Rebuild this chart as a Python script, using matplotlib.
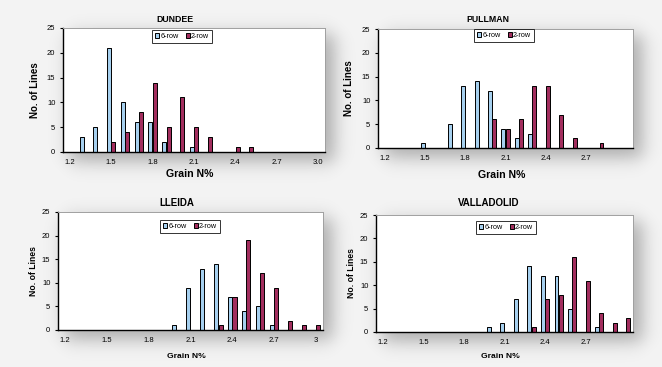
import numpy as np
import matplotlib
import matplotlib.pyplot as plt

matplotlib.use("Agg")
plt.rcParams["font.family"] = ["Liberation Sans", "DejaVu Sans"]

# Grain N% classes (category axis)
categories = ["1.2", "1.3", "1.4", "1.5", "1.6", "1.7", "1.8", "1.9", "2.0", "2.1",
              "2.2", "2.3", "2.4", "2.5", "2.6", "2.7", "2.8", "2.9", "3.0"]

dundee_6row = [0, 3, 5, 21, 10, 6, 6, 2, 0, 1, 0, 0, 0, 0, 0, 0, 0, 0, 0]
dundee_2row = [0, 0, 0, 2, 4, 8, 14, 5, 11, 5, 3, 0, 1, 1, 0, 0, 0, 0, 0]

pullman_6row = [0, 0, 0, 1, 0, 5, 13, 14, 12, 4, 2, 3, 0, 0, 0, 0, 0, 0, 0]
pullman_2row = [0, 0, 0, 0, 0, 0, 0, 0, 6, 4, 6, 13, 13, 7, 2, 0, 1, 0, 0]

lleida_6row = [0, 0, 0, 0, 0, 0, 0, 0, 1, 9, 13, 14, 7, 4, 5, 1, 0, 0, 0]
lleida_2row = [0, 0, 0, 0, 0, 0, 0, 0, 0, 0, 0, 1, 7, 19, 12, 9, 2, 1, 1]

valladolid_6row = [0, 0, 0, 0, 0, 0, 0, 0, 1, 2, 7, 14, 12, 12, 5, 0, 1, 0, 0]
valladolid_2row = [0, 0, 0, 0, 0, 0, 0, 0, 0, 0, 0, 1, 7, 8, 16, 11, 4, 2, 3]

dundee_ticks = ["1.2", "1.5", "1.8", "2.1", "2.4", "2.7", "3.0"]
pullman_ticks = ["1.2", "1.5", "1.8", "2.1", "2.4", "2.7"]
lleida_ticks = ["1.2", "1.5", "1.8", "2.1", "2.4", "2.7", "3"]
valladolid_ticks = ["1.2", "1.5", "1.8", "2.1", "2.4", "2.7"]

W, H = 662, 367
C6 = "#a6d0ef"
C2 = "#a22e5e"

# panel layout in pixels: (left, top, right, bottom)
panels = [
    dict(name="DUNDEE", six=dundee_6row, two=dundee_2row, ticks=dundee_ticks,
         box=(63, 28, 325, 152), title_xy=(175, 20), leg_xy=(182, 30),
         ylab_x=35, xlab_y=174, big=True),
    dict(name="PULLMAN", six=pullman_6row, two=pullman_2row, ticks=pullman_ticks,
         box=(378, 29, 633, 148), title_xy=(488, 19), leg_xy=(504, 29),
         ylab_x=349, xlab_y=175, big=True),
    dict(name="LLEIDA", six=lleida_6row, two=lleida_2row, ticks=lleida_ticks,
         box=(58, 212, 323, 330), title_xy=(177, 203), leg_xy=(190, 220),
         ylab_x=33, xlab_y=356, big=False),
    dict(name="VALLADOLID", six=valladolid_6row, two=valladolid_2row, ticks=valladolid_ticks,
         box=(376, 215, 633, 332), title_xy=(489, 203), leg_xy=(506, 221),
         ylab_x=351, xlab_y=357, big=False),
]

fig = plt.figure(figsize=(W / 100, H / 100), dpi=100)

# soft drop shadows behind the plot areas
yy, xx = np.mgrid[0:H, 0:W].astype(float)
shade = np.zeros((H, W))
for p in panels:
    l, t, r, b = p["box"]
    w = 11.0
    sx = 0.5 * (np.tanh((xx - (l + 6)) / w) - np.tanh((xx - (r + 9)) / w))
    sy = 0.5 * (np.tanh((yy - (t + 6)) / w) - np.tanh((yy - (b + 9)) / w))
    shade = np.maximum(shade, sx * sy)
bg = 0.955 - 0.28 * shade
ax_bg = fig.add_axes([0, 0, 1, 1], zorder=-5)
ax_bg.imshow(bg, cmap="gray", vmin=0, vmax=1, extent=(0, W, H, 0), aspect="auto")
ax_bg.axis("off")

x = np.arange(len(categories))
bw = 0.29
off = 0.155

for p in panels:
    l, t, r, b = p["box"]
    ax = fig.add_axes([l / W, 1 - b / H, (r - l) / W, (b - t) / H])
    ax.set_facecolor("white")

    six = np.array(p["six"], dtype=float)
    two = np.array(p["two"], dtype=float)
    m6 = six > 0
    m2 = two > 0
    # bar shadows
    ax.bar(x[m6] - off + 0.07, six[m6], bw, color="#9a9a9a", linewidth=0, zorder=1)
    ax.bar(x[m2] + off + 0.07, two[m2], bw, color="#9a9a9a", linewidth=0, zorder=1)
    ax.bar(x[m6] - off, six[m6], bw, color=C6, edgecolor="black", linewidth=0.7,
           label="6-row", zorder=2)
    ax.bar(x[m2] + off, two[m2], bw, color=C2, edgecolor="black", linewidth=0.7,
           label="2-row", zorder=2)

    ax.set_xlim(-0.5, len(categories) - 0.5)
    ax.set_ylim(0, 25)
    ax.set_yticks([0, 5, 10, 15, 20, 25])
    ax.set_xticks([categories.index(c if c != "3" else "3.0") for c in p["ticks"]])
    ax.set_xticklabels(p["ticks"])
    ax.tick_params(axis="y", labelsize=5.5, length=2.5, width=0.8, pad=3)
    ax.tick_params(axis="x", labelsize=5.5, length=0, pad=5)
    for s in ("left", "bottom"):
        ax.spines[s].set_color("black")
        ax.spines[s].set_linewidth(1.0)
    for s in ("top", "right"):
        ax.spines[s].set_color("#a0a0a0")
        ax.spines[s].set_linewidth(0.7)

    tx, ty = p["title_xy"]
    fig.text(tx / W, 1 - ty / H, p["name"], ha="center", va="center",
             fontsize=6.3 if p["big"] else 7, fontweight="bold")
    fig.text(p["ylab_x"] / W, 1 - ((t + b) / 2) / H, "No. of Lines", rotation=90,
             ha="center", va="center", fontsize=7 if p["big"] else 6.2, fontweight="bold")
    fig.text(((l + r) / 2 - 4) / W, 1 - p["xlab_y"] / H, "Grain N%", ha="center",
             va="center", fontsize=7.6 if p["big"] else 6.1, fontweight="bold")

    lx, ly = p["leg_xy"]
    leg = ax.legend(loc="upper center", bbox_to_anchor=(lx / W, 1 - ly / H),
                    bbox_transform=fig.transFigure, ncol=2, fontsize=5.2,
                    frameon=True, fancybox=False, edgecolor="black",
                    handlelength=0.6, handleheight=0.6, handletextpad=0.1,
                    columnspacing=1.0, borderpad=0.4, borderaxespad=0)
    leg.get_frame().set_linewidth(0.7)

fig.savefig("out.png", dpi=100)
